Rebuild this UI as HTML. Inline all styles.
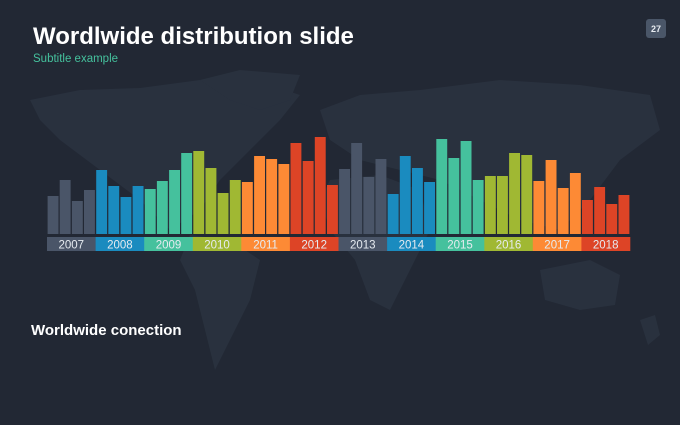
<!DOCTYPE html>
<html><head><meta charset="utf-8"><style>
body{margin:0;width:680px;height:425px;background:#222834;overflow:hidden;font-family:"Liberation Sans",sans-serif}
</style></head><body>
<svg width="680" height="425" xmlns="http://www.w3.org/2000/svg" style="position:absolute;left:0;top:0">
<rect width="680" height="425" fill="#222834"/>
<g fill="#29313e">
<path d="M30,100 L80,90 L140,88 L200,80 L240,75 L300,95 L280,120 L250,150 L220,180 L200,210 L170,230 L140,200 L100,170 L60,140 L40,120Z"/>
<path d="M200,80 L240,70 L300,75 L290,100 L260,110 L230,100Z"/>
<path d="M190,235 L230,240 L260,260 L250,300 L230,340 L215,370 L205,330 L195,290 L180,260Z"/>
<path d="M320,110 L360,95 L420,90 L500,80 L580,85 L650,95 L660,130 L620,160 L590,200 L560,230 L520,220 L480,200 L440,180 L400,170 L360,160 L330,140Z"/>
<path d="M330,180 L380,175 L420,190 L430,230 L410,270 L390,310 L370,300 L355,260 L330,230 L320,200Z"/>
<path d="M540,270 L590,260 L620,275 L615,305 L580,310 L545,300Z"/>
<path d="M640,320 L655,315 L660,335 L648,345Z"/>
</g>
<text x="33" y="44" font-size="24" font-weight="bold" fill="#ffffff">Wordlwide distribution slide</text>
<text x="33" y="62" font-size="11.5" fill="#45c19d">Subtitle example</text>
<rect x="646" y="19" width="20" height="19" rx="3" fill="#4a5668"/>
<text x="656" y="32" font-size="9" font-weight="bold" fill="#e8ecf1" text-anchor="middle">27</text>
<text x="31" y="335" font-size="15" font-weight="bold" fill="#ffffff">Worldwide conection</text>
<g id="bars"></g>
</svg>
<script>
var tops=[[196,180,201,190],[170,186,197,186],[189,181,170,153],[151,168,193,180],[182,156,159,164],[143,161,137,185],[169,143,177,159],[194,156,168,182],[139,158,141,180],[176,176,153,155],[181,160,188,173],[200,187,204,195]];
var cols=["#4a5568","#1a8bbf","#45c19d","#a0b833","#fd8a35","#dd4426","#4a5568","#1a8bbf","#45c19d","#a0b833","#fd8a35","#dd4426"];
var g=document.getElementById('bars'),s="";
var x0=47,yw=583/12,bw=yw/4;
for(var i=0;i<12;i++){
 var yx=x0+i*yw;
 for(var j=0;j<4;j++){var bx=yx+j*bw;s+='<rect x="'+(bx+0.6).toFixed(1)+'" y="'+tops[i][j]+'" width="'+(bw-1.2).toFixed(1)+'" height="'+(234-tops[i][j])+'" fill="'+cols[i]+'"/>';}
 s+='<rect x="'+yx.toFixed(1)+'" y="237" width="'+(yw+0.3).toFixed(1)+'" height="14" fill="'+cols[i]+'"/>';
 s+='<text x="'+(yx+yw/2).toFixed(1)+'" y="248.5" font-size="11.5" fill="#e6ebf0" text-anchor="middle">'+(2007+i)+'</text>';
}
g.innerHTML=s;
</script>
</body></html>
